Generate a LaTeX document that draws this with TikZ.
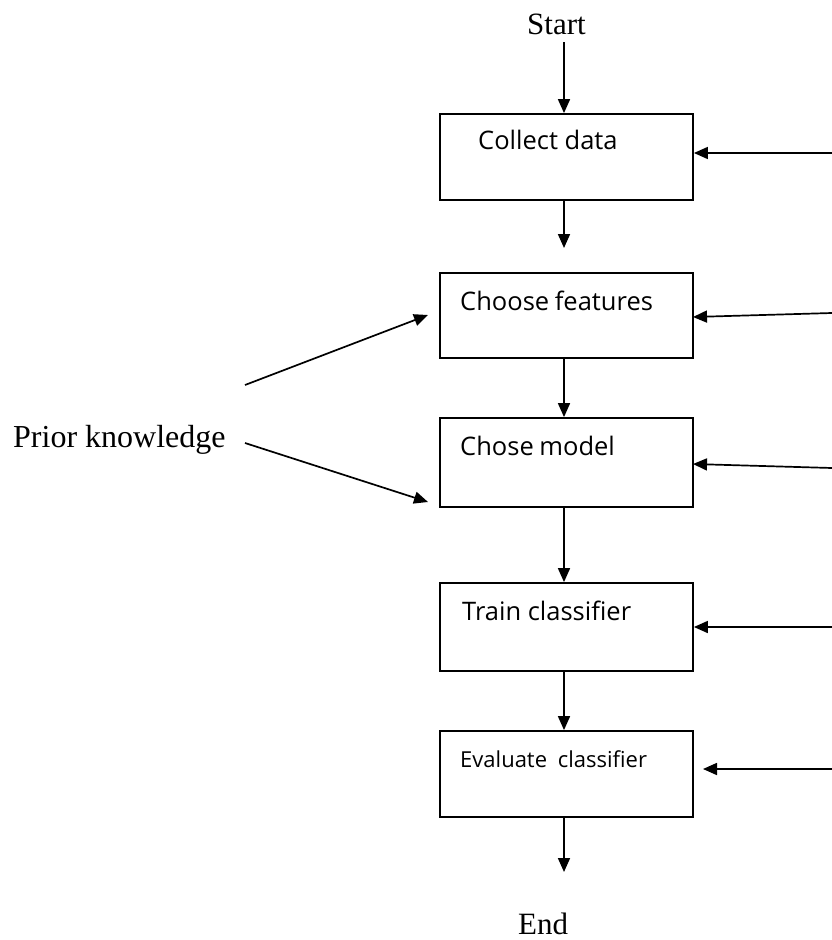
\documentclass[tikz,border=0pt]{standalone}
\usepackage{fontspec}
\setmainfont{Liberation Serif}
\newfontfamily\boxfont{Open Sans}
\usetikzlibrary{arrows.meta}
\begin{document}
\begin{tikzpicture}[x=1pt,y=-1pt,
  stage/.style={draw,line width=1.8pt,rectangle,minimum width=253pt,inner sep=0pt},
  stagetext/.style={anchor=base west,inner sep=0pt,font=\boxfont\fontsize{25.5}{29}\selectfont},
  serifword/.style={anchor=base west,inner sep=0pt,font=\fontsize{31}{36}\selectfont},
  flow/.style={line width=1.7pt,-{Triangle[length=14pt,width=12pt]}}]
\useasboundingbox (0,0) rectangle (832,940);

% process stages
\node[stage,minimum height=86pt] (collect) at (566.5,157) {};
\node[stage,minimum height=85pt] (choose) at (566.5,315.5) {};
\node[stage,minimum height=89pt] (model) at (566.5,462.5) {};
\node[stage,minimum height=88pt] (train) at (566.5,627) {};
\node[stage,minimum height=86pt] (evaluate) at (566.5,774) {};

\node[stagetext] (tcollect) at (478,149) {Collect data};
\node[stagetext] (tchoose) at (460,310) {Choose\hspace{-1pt} features};
\node[stagetext] (tmodel) at (460,455) {Chose\hspace{-1pt} model};
\node[stagetext] (ttrain) at (462,620) {Train classifier};
\node[stagetext,font=\boxfont\fontsize{22}{26}\selectfont] (tevaluate) at (460,767) {Evaluate\hspace{5pt} classifier};

% terminals and side input
\node[serifword] (start) at (527,34) {Start};
\node[serifword] (end) at (518,934) {End};
\node[serifword,font=\fontsize{32}{36}\selectfont] (prior) at (13,447) {Prior knowledge};

% main flow
\coordinate (s0) at (564,42);
\draw[flow] (s0) -- (s0 |- collect.north);
\draw[flow] (collect.south -| 564,0) -- (564,248);
\draw[flow] (choose.south -| 564,0) -- (model.north -| 564,0);
\draw[flow] (model.south -| 564,0) -- (train.north -| 564,0);
\draw[flow] (train.south -| 564,0) -- (evaluate.north -| 564,0);
\coordinate (e1) at (564,872);
\draw[flow] (evaluate.south -| 564,0) -- (e1);

% feedback inputs from the right
\coordinate (r1) at (832,153);
\coordinate (r2) at (832,313);
\coordinate (r3) at (832,468);
\coordinate (r4) at (832,627);
\coordinate (r5) at (832,769);
\draw[flow] (r1) -- (collect.east |- r1);
\draw[flow] (r2) -- (693,317);
\draw[flow] (r3) -- (693,464);
\draw[flow] (r4) -- (train.east |- r4);
\draw[flow] (r5) -- (703,769);

% prior knowledge arrows
\coordinate (p1) at (245,385);
\coordinate (p2) at (245,443);
\draw[flow] (p1) -- (428,315);
\draw[flow] (p2) -- (428,502);
\end{tikzpicture}
\end{document}
